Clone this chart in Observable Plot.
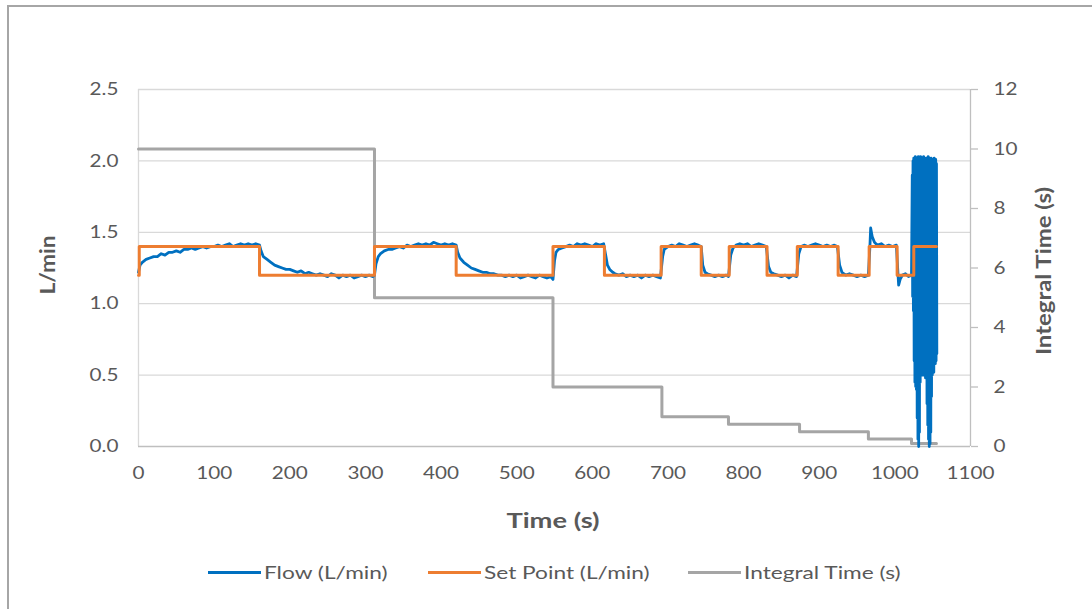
<!DOCTYPE html>
<html><head><meta charset="utf-8">
<script src="https://cdn.jsdelivr.net/npm/d3@7"></script>
<script src="https://cdn.jsdelivr.net/npm/@observablehq/plot@0.6"></script>
<style>
body{margin:0;background:#fff;font-family:Lato,sans-serif;}
#wrap{position:relative;width:1092px;height:609px;overflow:hidden;background:#fff;}
#border{position:absolute;left:7px;top:5px;width:1200px;height:700px;border-left:2px solid #a6a6a6;border-top:2px solid #a6a6a6;}
#chart{position:absolute;left:0;top:0;}
.title{position:absolute;font-weight:bold;font-size:21px;color:#595959;white-space:nowrap;}
.leg{position:absolute;top:561px;height:22px;display:flex;align-items:center;font-size:18px;color:#595959;white-space:nowrap;}
.leg .sw{width:53px;height:3px;margin-right:3px;flex:none;}
.leg span{display:inline-block;transform:scaleX(1.26);transform-origin:0 50%;}
</style></head><body>
<div id="wrap">
  <div id="border"></div>
  <div id="chart"></div>
  <div class="title" id="xt" style="left:553px;top:519px;transform:translate(-50%,-50%) scaleX(1.3);">Time (s)</div>
  <div class="title" id="yl" style="left:46px;top:265px;transform:translate(-50%,-50%) rotate(-90deg) scaleX(1.08);">L/min</div>
  <div class="title" id="yr" style="left:1042px;top:271px;transform:translate(-50%,-50%) rotate(-90deg) scaleX(1.14);">Integral Time (s)</div>
  <div id="legend"></div>
</div>
<script>
// ---- data ----
const xTicks = [0,100,200,300,400,500,600,700,800,900,1000,1100];
const yTicks = [0,0.5,1,1.5,2,2.5];
const rightTicks = [0,2,4,6,8,10,12];

const flowTime = [
 0,2,5,10,15,20,25,30,35,40,45,50,55,60,65,70,75,80,85,90,95,100,105,110,115,120,125,130,135,140,145,150,155,160,
 162,165,170,175,180,185,190,195,200,205,210,215,220,225,230,235,240,245,250,255,260,265,270,275,280,285,290,295,300,305,310,312,
 314,317,320,325,330,335,340,345,350,355,360,365,370,375,380,385,390,395,400,405,410,415,420,
 422,425,430,435,440,445,450,455,460,465,470,475,480,485,490,495,500,505,510,515,520,525,530,535,540,545,548,
 550,552,555,560,565,570,575,580,585,590,595,600,605,610,615,
 618,620,623,627,630,635,640,645,650,655,660,665,670,675,680,685,690,
 693,695,700,705,710,715,720,725,730,735,740,744,
 746,749,752,757,762,767,772,777,780,
 783,786,790,795,800,805,810,815,820,825,830,
 833,836,840,845,850,855,860,865,870,
 873,876,880,885,890,895,900,905,910,915,920,924,
 927,930,935,940,945,950,955,960,965,
 967,968,970,973,977,982,987,992,997,1002,
 1004,1005,1007,1010,1014,1018,1022
];
const flowValue = [
 1.22,1.27,1.29,1.31,1.32,1.33,1.33,1.35,1.34,1.36,1.36,1.37,1.36,1.38,1.38,1.39,1.38,1.39,1.40,1.39,1.40,1.40,1.41,1.40,1.41,1.42,1.40,1.41,1.42,1.41,1.42,1.41,1.42,1.41,
 1.37,1.33,1.31,1.29,1.27,1.26,1.25,1.24,1.24,1.23,1.22,1.23,1.21,1.22,1.21,1.20,1.21,1.20,1.19,1.21,1.20,1.18,1.20,1.19,1.20,1.18,1.19,1.20,1.19,1.20,1.19,1.20,
 1.28,1.33,1.35,1.37,1.38,1.38,1.39,1.40,1.39,1.41,1.40,1.41,1.42,1.41,1.42,1.41,1.43,1.42,1.41,1.42,1.41,1.42,1.41,
 1.36,1.32,1.29,1.27,1.25,1.24,1.23,1.22,1.22,1.21,1.21,1.20,1.20,1.19,1.20,1.19,1.20,1.18,1.19,1.20,1.19,1.18,1.20,1.19,1.18,1.19,1.17,
 1.30,1.36,1.38,1.39,1.40,1.41,1.40,1.42,1.41,1.42,1.41,1.40,1.42,1.41,1.42,
 1.33,1.27,1.24,1.22,1.21,1.20,1.21,1.19,1.20,1.19,1.20,1.18,1.20,1.19,1.20,1.19,1.18,
 1.33,1.38,1.40,1.41,1.40,1.42,1.41,1.40,1.41,1.42,1.41,1.40,
 1.27,1.22,1.21,1.20,1.19,1.20,1.19,1.20,1.19,
 1.34,1.39,1.41,1.42,1.41,1.42,1.40,1.41,1.42,1.41,1.40,
 1.26,1.22,1.21,1.20,1.19,1.20,1.18,1.20,1.19,
 1.35,1.40,1.41,1.40,1.41,1.42,1.41,1.40,1.41,1.40,1.41,1.40,
 1.27,1.22,1.20,1.21,1.20,1.19,1.20,1.19,1.20,
 1.40,1.53,1.47,1.43,1.41,1.42,1.40,1.41,1.40,1.41,
 1.22,1.13,1.17,1.20,1.21,1.19,1.20
];
// unstable oscillation at the end of the run
const oscTime = [
 1023,1023.5,1024,1024.5,1025,1025.5,1026,1026.5,1027,1027.5,1028,1028.5,1029,1029.5,1030,1030.5,
 1031,1031.5,1032,1032.5,1033,1033.5,1034,1034.5,1035,1035.5,1036,1036.5,1037,1037.5,1038,1038.5,
 1039,1039.5,1040,1040.5,1041,1041.5,1042,1042.5,1043,1043.5,1044,1044.5,1045,1045.5,1046,1046.5,
 1047,1047.5,1048,1048.5,1049,1049.5,1050,1050.5,1051,1051.5,1052,1052.5,1053,1053.5,1054,1054.5,1055,1055.5
];
const oscValue = [
 1.90,1.05,2.00,0.95,2.02,0.60,2.01,0.45,2.03,0.42,2.00,0.40,2.02,0.20,2.01,0.05,
 2.03,0.00,2.02,0.10,2.00,0.45,2.03,0.50,2.01,0.52,2.02,0.50,2.00,0.55,2.03,0.50,
 2.01,0.52,2.02,0.48,2.00,0.50,2.02,0.30,2.01,0.15,2.03,0.05,2.00,0.00,2.02,0.02,
 2.01,0.10,2.02,0.35,2.00,0.50,2.01,0.55,2.00,0.52,2.02,0.60,2.00,0.58,2.01,0.60,1.98,0.65
];
const spTime  = [0,1,160,312,420,548,616,691,744,781,831,871,925,966,1003,1025,1055];
const spValue = [1.2,1.4,1.2,1.4,1.2,1.4,1.2,1.4,1.2,1.4,1.2,1.4,1.2,1.4,1.2,1.4,1.4];
const itTime  = [0,312,548,692,780,874,965,1022,1055];
const itValue = [10,5,2,1,0.75,0.5,0.25,0.1,0.1];

const seriesNames = ["Flow (L/min)","Set Point (L/min)","Integral Time (s)"];
const seriesColors = ["#0070c0","#ed7d31","#a5a5a5"];

// ---- build ----
const k = 2.5/12; // secondary axis (0–12) mapped onto primary (0–2.5)
const allT = flowTime.concat(oscTime), allV = flowValue.concat(oscValue);
const flow = allT.map((t,i)=>({t, v: allV[i]}));
const sp = spTime.map((t,i)=>({t, v: spValue[i]}));
const it = itTime.map((t,i)=>({t, v: itValue[i]*k}));

const plot = Plot.plot({
  width:1092, height:545,
  marginLeft:138, marginRight:122, marginTop:89, marginBottom:99,
  style:{fontFamily:"Lato, sans-serif", fontSize:"18px", color:"#595959", background:"transparent"},
  x:{domain:[0,1100]},
  y:{domain:[0,2.5]},
  marks:[
    Plot.gridY(yTicks.slice(1),{stroke:"#d9d9d9", strokeOpacity:1, strokeWidth:1.3}),
    Plot.ruleX([0],{stroke:"#d9d9d9", strokeWidth:1.3}),
    Plot.ruleX([1100],{stroke:"#bfbfbf", strokeWidth:1.3}),
    Plot.ruleY([0],{stroke:"#bfbfbf", strokeWidth:1.3}),
    Plot.axisX(xTicks,{tickSize:0, tickPadding:20, tickFormat:d=>String(d), label:null, fill:"#595959"}),
    Plot.axisY(yTicks,{tickSize:0, tickPadding:20, tickFormat:d=>d.toFixed(1), label:null, fill:"#595959"}),
    Plot.axisY(rightTicks.map(v=>v*k),{anchor:"right", tickSize:7, tickPadding:16, stroke:"#bfbfbf", strokeWidth:1.3,
      tickFormat:d=>String(Math.round(d/k)), label:null, fill:"#595959"}),
    Plot.line(it,{x:"t", y:"v", curve:"step-after", stroke:seriesColors[2], strokeWidth:3}),
    Plot.line(flow,{x:"t", y:"v", stroke:seriesColors[0], strokeWidth:2.8}),
    Plot.line(sp,{x:"t", y:"v", curve:"step-after", stroke:seriesColors[1], strokeWidth:3})
  ]
});
// widen tick labels slightly about their anchor to match the reference's letter widths
plot.querySelectorAll("text").forEach(t=>{
  const tr = t.getAttribute("transform");
  if (tr) t.setAttribute("transform", tr + " scale(1.15,1)");
});
document.getElementById("chart").appendChild(plot);

// legend
const legLeft = [208, 428, 688];
const legend = document.getElementById("legend");
seriesNames.forEach((name,i)=>{
  const d = document.createElement("div");
  d.className = "leg";
  d.style.left = legLeft[i] + "px";
  d.innerHTML = `<div class="sw" style="background:${seriesColors[i]}"></div><span>${name}</span>`;
  legend.appendChild(d);
});
</script>
</body></html>
